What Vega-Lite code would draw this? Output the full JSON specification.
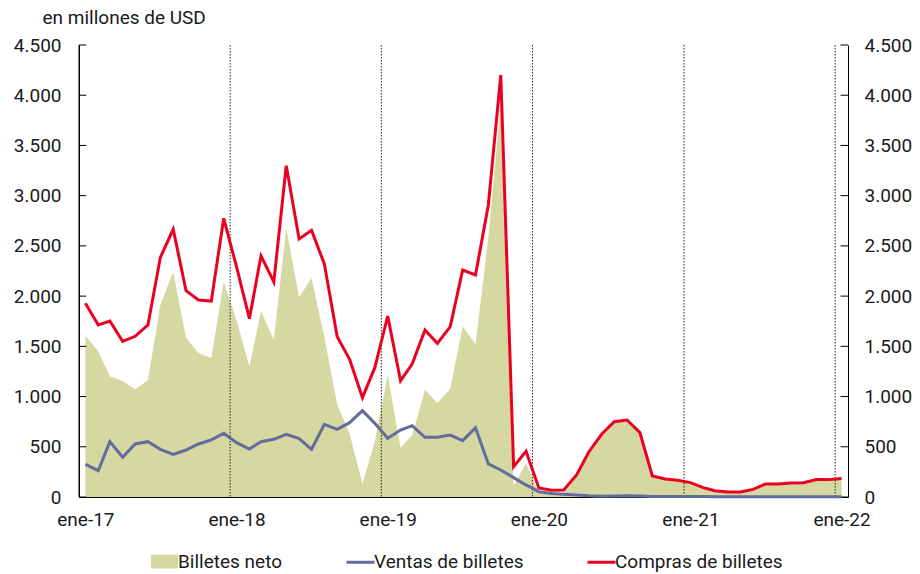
{
  "$schema": "https://vega.github.io/schema/vega-lite/v6.json",
  "width": 769,
  "height": 452,
  "autosize": "none",
  "padding": {"left": 79, "top": 45, "right": 72, "bottom": 77},
  "background": "white",
  "config": {
    "font": "Roboto",
    "view": {"stroke": null},
    "axis": {"labelFont": "Roboto", "labelFontSize": 19, "labelColor": "#1a1a1a", "domainColor": "#000000", "tickColor": "#000000", "grid": false},
    "legend": {"labelFont": "Roboto", "labelFontSize": 19, "labelColor": "#1a1a1a", "labelLimit": 400}
  },
  "datasets": {
    "billetes": [
      {"fecha": "2017-01-01", "compras": 1930, "ventas": 325, "neto": 1605},
      {"fecha": "2017-02-01", "compras": 1713, "ventas": 262, "neto": 1451},
      {"fecha": "2017-03-01", "compras": 1752, "ventas": 551, "neto": 1201},
      {"fecha": "2017-04-01", "compras": 1550, "ventas": 395, "neto": 1155},
      {"fecha": "2017-05-01", "compras": 1600, "ventas": 528, "neto": 1072},
      {"fecha": "2017-06-01", "compras": 1713, "ventas": 551, "neto": 1162},
      {"fecha": "2017-07-01", "compras": 2386, "ventas": 475, "neto": 1911},
      {"fecha": "2017-08-01", "compras": 2665, "ventas": 425, "neto": 2240},
      {"fecha": "2017-09-01", "compras": 2054, "ventas": 468, "neto": 1586},
      {"fecha": "2017-10-01", "compras": 1961, "ventas": 528, "neto": 1433},
      {"fecha": "2017-11-01", "compras": 1951, "ventas": 568, "neto": 1383},
      {"fecha": "2017-12-01", "compras": 2775, "ventas": 634, "neto": 2141},
      {"fecha": "2018-01-01", "compras": 2290, "ventas": 541, "neto": 1760},
      {"fecha": "2018-02-01", "compras": 1776, "ventas": 478, "neto": 1298},
      {"fecha": "2018-03-01", "compras": 2400, "ventas": 551, "neto": 1849},
      {"fecha": "2018-04-01", "compras": 2141, "ventas": 574, "neto": 1567},
      {"fecha": "2018-05-01", "compras": 3299, "ventas": 624, "neto": 2675},
      {"fecha": "2018-06-01", "compras": 2569, "ventas": 581, "neto": 1988},
      {"fecha": "2018-07-01", "compras": 2655, "ventas": 475, "neto": 2180},
      {"fecha": "2018-08-01", "compras": 2320, "ventas": 724, "neto": 1596},
      {"fecha": "2018-09-01", "compras": 1596, "ventas": 674, "neto": 922},
      {"fecha": "2018-10-01", "compras": 1371, "ventas": 740, "neto": 631},
      {"fecha": "2018-11-01", "compras": 989, "ventas": 860, "neto": 129},
      {"fecha": "2018-12-01", "compras": 1290, "ventas": 733, "neto": 557},
      {"fecha": "2019-01-01", "compras": 1802, "ventas": 584, "neto": 1218},
      {"fecha": "2019-02-01", "compras": 1158, "ventas": 667, "neto": 491},
      {"fecha": "2019-03-01", "compras": 1324, "ventas": 710, "neto": 614},
      {"fecha": "2019-04-01", "compras": 1663, "ventas": 594, "neto": 1069},
      {"fecha": "2019-05-01", "compras": 1530, "ventas": 594, "neto": 936},
      {"fecha": "2019-06-01", "compras": 1696, "ventas": 617, "neto": 1079},
      {"fecha": "2019-07-01", "compras": 2260, "ventas": 561, "neto": 1699},
      {"fecha": "2019-08-01", "compras": 2210, "ventas": 690, "neto": 1520},
      {"fecha": "2019-09-01", "compras": 2907, "ventas": 329, "neto": 2578},
      {"fecha": "2019-10-01", "compras": 4202, "ventas": 269, "neto": 3933},
      {"fecha": "2019-11-01", "compras": 302, "ventas": 193, "neto": 109},
      {"fecha": "2019-12-01", "compras": 455, "ventas": 120, "neto": 335},
      {"fecha": "2020-01-01", "compras": 90, "ventas": 53, "neto": 37},
      {"fecha": "2020-02-01", "compras": 68, "ventas": 36, "neto": 32},
      {"fecha": "2020-03-01", "compras": 70, "ventas": 27, "neto": 43},
      {"fecha": "2020-04-01", "compras": 219, "ventas": 20, "neto": 199},
      {"fecha": "2020-05-01", "compras": 451, "ventas": 12, "neto": 439},
      {"fecha": "2020-06-01", "compras": 627, "ventas": 8, "neto": 619},
      {"fecha": "2020-07-01", "compras": 750, "ventas": 10, "neto": 740},
      {"fecha": "2020-08-01", "compras": 767, "ventas": 13, "neto": 754},
      {"fecha": "2020-09-01", "compras": 641, "ventas": 10, "neto": 631},
      {"fecha": "2020-10-01", "compras": 209, "ventas": 5, "neto": 204},
      {"fecha": "2020-11-01", "compras": 179, "ventas": 5, "neto": 174},
      {"fecha": "2020-12-01", "compras": 166, "ventas": 5, "neto": 161},
      {"fecha": "2021-01-01", "compras": 143, "ventas": 4, "neto": 139},
      {"fecha": "2021-02-01", "compras": 93, "ventas": 4, "neto": 89},
      {"fecha": "2021-03-01", "compras": 63, "ventas": 3, "neto": 60},
      {"fecha": "2021-04-01", "compras": 50, "ventas": 3, "neto": 47},
      {"fecha": "2021-05-01", "compras": 50, "ventas": 3, "neto": 47},
      {"fecha": "2021-06-01", "compras": 76, "ventas": 3, "neto": 73},
      {"fecha": "2021-07-01", "compras": 129, "ventas": 3, "neto": 126},
      {"fecha": "2021-08-01", "compras": 129, "ventas": 3, "neto": 126},
      {"fecha": "2021-09-01", "compras": 139, "ventas": 3, "neto": 136},
      {"fecha": "2021-10-01", "compras": 143, "ventas": 3, "neto": 140},
      {"fecha": "2021-11-01", "compras": 173, "ventas": 3, "neto": 170},
      {"fecha": "2021-12-01", "compras": 173, "ventas": 3, "neto": 170},
      {"fecha": "2022-01-01", "compras": 183, "ventas": 3, "neto": 180}
    ],
    "cambio_anio": [
      {"limite": "2017-12-16T12:00:00Z"},
      {"limite": "2018-12-16T12:00:00Z"},
      {"limite": "2019-12-16T12:00:00Z"},
      {"limite": "2020-12-16T12:00:00Z"},
      {"limite": "2021-12-16T12:00:00Z"}
    ],
    "marcas_y": [
      {"valor": 0}, {"valor": 500}, {"valor": 1000}, {"valor": 1500}, {"valor": 2000},
      {"valor": 2500}, {"valor": 3000}, {"valor": 3500}, {"valor": 4000}, {"valor": 4500}
    ]
  },
  "resolve": {"scale": {"y": "shared", "x": "shared", "color": "shared"}, "axis": {"y": "independent"}},
  "layer": [
    {
      "data": {"name": "billetes"},
      "mark": {"type": "area", "opacity": 1, "interpolate": "linear"},
      "encoding": {
        "x": {
          "field": "fecha", "type": "temporal",
          "scale": {"type": "utc", "domain": [{"year": 2016, "month": 12, "date": 16, "hours": 12, "utc": true}, {"year": 2022, "month": 1, "date": 16, "hours": 12, "utc": true}]},
          "axis": {"title": null, "ticks": false, "domainWidth": 1.2, "tickCount": {"interval": "year", "step": 1}, "format": "ene-%y", "labelPadding": 13, "labelBaseline": "top", "labelFlush": false}
        },
        "y": {
          "field": "neto", "type": "quantitative",
          "scale": {"domain": [0, 4500], "nice": false, "zero": true},
          "axis": {
            "orient": "left", "values": [0, 500, 1000, 1500, 2000, 2500, 3000, 3500, 4000, 4500],
            "labelExpr": "replace(format(datum.value, ','), ',', '.')",
            "ticks": false, "domain": true, "domainWidth": 1, "labelPadding": 18, "labelBaseline": "middle",
            "title": "en millones de USD", "titleAngle": 0, "titleAlign": "left", "titleBaseline": "alphabetic",
            "titleX": -37, "titleY": -22, "titleFont": "Roboto", "titleFontSize": 19, "titleFontWeight": "normal", "titleColor": "#1a1a1a"
          }
        },
        "color": {
          "datum": "Billetes neto",
          "scale": {"domain": ["Billetes neto", "Ventas de billetes", "Compras de billetes"], "range": ["#d6d8a1", "#646c9c", "#ec0021"]},
          "legend": {
            "title": null, "orient": "none", "direction": "horizontal", "legendX": 70, "legendY": 501,
            "symbolSize": 784, "labelOffset": -2, "columnPadding": 57, "labelLimit": 400,
            "encoding": {
              "symbols": {
                "shape": {"value": {"expr": "datum.value === 'Billetes neto' ? 'M-0.86,-0.38H0.86V0.38H-0.86Z' : 'M-1,0H1'"}},
                "fill": {"value": {"expr": "datum.value === 'Billetes neto' ? '#d6d8a1' : 'transparent'"}},
                "stroke": {"value": {"expr": "datum.value === 'Billetes neto' ? 'transparent' : (datum.value === 'Ventas de billetes' ? '#646c9c' : '#ec0021')"}},
                "strokeWidth": {"value": 3},
                "opacity": {"value": 1}
              }
            }
          }
        }
      }
    },
    {
      "data": {"name": "cambio_anio"},
      "mark": {"type": "rule", "color": "#222222", "strokeWidth": 1, "strokeDash": [1.5, 1.5]},
      "encoding": {
        "x": {"field": "limite", "type": "temporal", "axis": {"title": null, "ticks": false, "domainWidth": 1.2, "tickCount": {"interval": "year", "step": 1}, "format": "ene-%y", "labelPadding": 13, "labelBaseline": "top", "labelFlush": false}}
      }
    },
    {
      "data": {"values": [{}]},
      "mark": {"type": "rule", "color": "#000000", "strokeWidth": 1},
      "encoding": {
        "x": {"datum": {"year": 2016, "month": 12, "date": 16, "hours": 12, "utc": true}, "type": "temporal", "axis": {"title": null, "ticks": false, "domainWidth": 1.2, "tickCount": {"interval": "year", "step": 1}, "format": "ene-%y", "labelPadding": 13, "labelBaseline": "top", "labelFlush": false}}
      }
    },
    {
      "data": {"name": "marcas_y"},
      "mark": {"type": "rule", "color": "#000000", "strokeWidth": 1},
      "encoding": {
        "x": {"datum": {"year": 2016, "month": 12, "date": 16, "hours": 12, "utc": true}, "type": "temporal", "axis": {"title": null, "ticks": false, "domainWidth": 1.2, "tickCount": {"interval": "year", "step": 1}, "format": "ene-%y", "labelPadding": 13, "labelBaseline": "top", "labelFlush": false}},
        "x2": {"datum": {"year": 2017, "month": 1, "date": 3, "utc": true}},
        "y": {"field": "valor", "type": "quantitative", "axis": null}
      }
    },
    {
      "data": {"name": "marcas_y"},
      "mark": {"type": "rule", "color": "#000000", "strokeWidth": 1},
      "encoding": {
        "x": {"datum": {"year": 2021, "month": 12, "date": 29, "hours": 12, "utc": true}, "type": "temporal", "axis": {"title": null, "ticks": false, "domainWidth": 1.2, "tickCount": {"interval": "year", "step": 1}, "format": "ene-%y", "labelPadding": 13, "labelBaseline": "top", "labelFlush": false}},
        "x2": {"datum": {"year": 2022, "month": 1, "date": 16, "hours": 12, "utc": true}},
        "y": {"field": "valor", "type": "quantitative", "axis": null}
      }
    },
    {
      "data": {"name": "billetes"},
      "mark": {"type": "line", "strokeWidth": 3, "interpolate": "linear"},
      "encoding": {
        "x": {"field": "fecha", "type": "temporal", "axis": {"title": null, "ticks": false, "domainWidth": 1.2, "tickCount": {"interval": "year", "step": 1}, "format": "ene-%y", "labelPadding": 13, "labelBaseline": "top", "labelFlush": false}},
        "y": {
          "field": "ventas", "type": "quantitative",
          "axis": {
            "orient": "right", "title": null, "values": [0, 500, 1000, 1500, 2000, 2500, 3000, 3500, 4000, 4500],
            "labelExpr": "replace(format(datum.value, ','), ',', '.')",
            "ticks": false, "domain": true, "domainWidth": 1, "labelPadding": 16, "labelBaseline": "middle"
          }
        },
        "color": {"datum": "Ventas de billetes"}
      }
    },
    {
      "data": {"name": "billetes"},
      "mark": {"type": "line", "strokeWidth": 3, "interpolate": "linear"},
      "encoding": {
        "x": {"field": "fecha", "type": "temporal", "axis": {"title": null, "ticks": false, "domainWidth": 1.2, "tickCount": {"interval": "year", "step": 1}, "format": "ene-%y", "labelPadding": 13, "labelBaseline": "top", "labelFlush": false}},
        "y": {"field": "compras", "type": "quantitative", "axis": null},
        "color": {"datum": "Compras de billetes"}
      }
    }
  ]
}
